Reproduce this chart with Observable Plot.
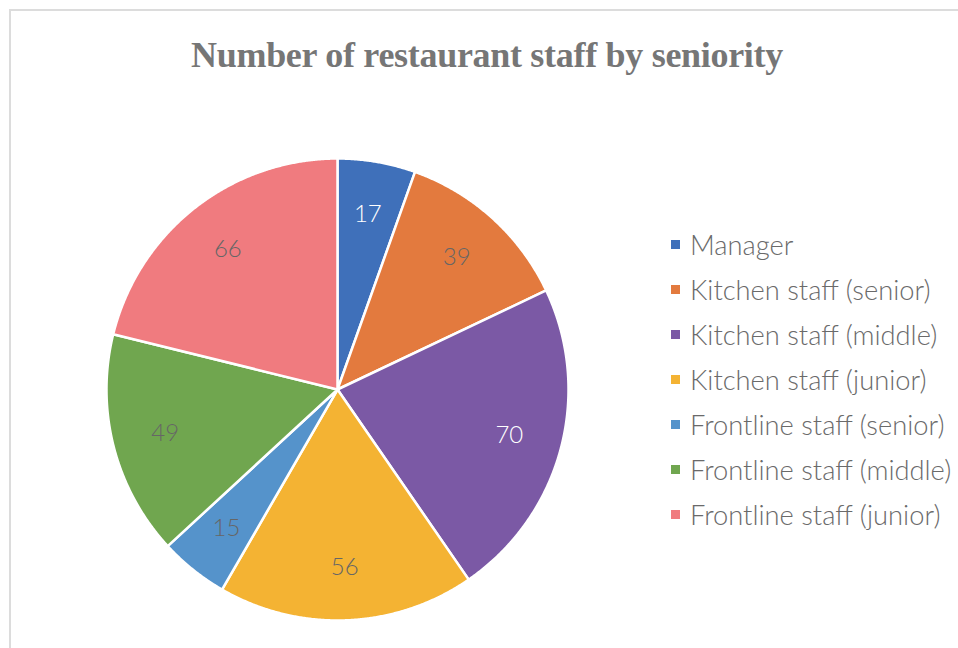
<!DOCTYPE html>
<html>
<head>
<meta charset="utf-8">
<script src="https://cdn.jsdelivr.net/npm/d3@7"></script>
<script src="https://cdn.jsdelivr.net/npm/@observablehq/plot@0.6"></script>
<style>
  html, body { margin: 0; padding: 0; background: #fff; overflow: hidden; }
  #wrap { position: relative; width: 958px; height: 648px; overflow: hidden; }
  #frame { position: absolute; left: 9px; top: 9px; width: 1000px; height: 700px; border: 2px solid #dcdcdc; box-sizing: border-box; }
  #title { position: absolute; left: 9px; width: 956px; top: 34px; text-align: center;
           font-family: "Liberation Serif", "DejaVu Serif", serif; font-weight: bold; font-size: 36px; color: #767676; letter-spacing: -0.3px; }
  #chart { position: absolute; left: 0; top: 0; }
  #legend { position: absolute; left: 671px; top: 222px; font-family: Lato, "Open Sans", sans-serif; font-weight: 300; font-size: 27.3px; color: #6a6a6a; }
  .item { height: 45px; line-height: 45px; white-space: nowrap; display: flex; align-items: center; }
  .sw { width: 9px; height: 9px; margin-right: 10px; flex: none; }
</style>
</head>
<body>
<div id="wrap">
  <div id="frame"></div>
  <div id="chart"></div>
  <div id="title">Number of restaurant staff by seniority</div>
  <div id="legend"></div>
</div>
<script>
const categories = [
  "Manager",
  "Kitchen staff (senior)",
  "Kitchen staff (middle)",
  "Kitchen staff (junior)",
  "Frontline staff (senior)",
  "Frontline staff (middle)",
  "Frontline staff (junior)"
];
const values = [17, 39, 70, 56, 15, 49, 66];
const colors = ["#3F70BA", "#E37A3E", "#7B59A5", "#F4B333", "#5593CB", "#70A64F", "#F07B7F"];

const data = categories.map((c, i) => ({category: c, value: values[i]}));
const arcs = d3.pie().sort(null).value(d => d.value).startAngle(0).endAngle(2 * Math.PI)(data);

// polygon outline of each slice in unit-circle data space
const slicePts = [];
for (const a of arcs) {
  const c = a.data.category;
  slicePts.push({category: c, x: 0, y: 0});
  const n = Math.max(2, Math.ceil((a.endAngle - a.startAngle) / 0.005));
  for (let k = 0; k <= n; k++) {
    const t = a.startAngle + (a.endAngle - a.startAngle) * k / n;
    slicePts.push({category: c, x: Math.sin(t), y: Math.cos(t)});
  }
  slicePts.push({category: c, x: 0, y: 0});
}
const labels = arcs.map((a, i) => {
  const m = (a.startAngle + a.endAngle) / 2;
  return {category: a.data.category, value: a.data.value, x: 0.77 * Math.sin(m), y: 0.77 * Math.cos(m),
          ink: d3.lab(colors[i]).l < 52 ? "#ffffff" : "#666666"};
});

const chart = Plot.plot({
  width: 958,
  height: 648,
  marginLeft: 106,
  marginRight: 390,
  marginTop: 158,
  marginBottom: 28,
  x: {domain: [-1, 1], axis: null},
  y: {domain: [-1, 1], axis: null},
  color: {domain: categories, range: colors},
  style: {background: "transparent"},
  marks: [
    Plot.line(slicePts, {x: "x", y: "y", z: "category", fill: "category", stroke: "#ffffff", strokeWidth: 2.5, strokeLinejoin: "round"}),
    Plot.text(labels, {x: "x", y: "y", text: d => String(d.value), fill: "ink", fontSize: 24, fontFamily: "Lato, sans-serif", fontWeight: 300})
  ]
});
document.getElementById("chart").appendChild(chart);

const legend = document.getElementById("legend");
categories.forEach((c, i) => {
  const it = document.createElement("div");
  it.className = "item";
  const sw = document.createElement("span");
  sw.className = "sw";
  sw.style.background = chart.scale("color").apply(c);
  const tx = document.createElement("span");
  tx.textContent = c;
  it.appendChild(sw); it.appendChild(tx);
  legend.appendChild(it);
});
</script>
</body>
</html>
